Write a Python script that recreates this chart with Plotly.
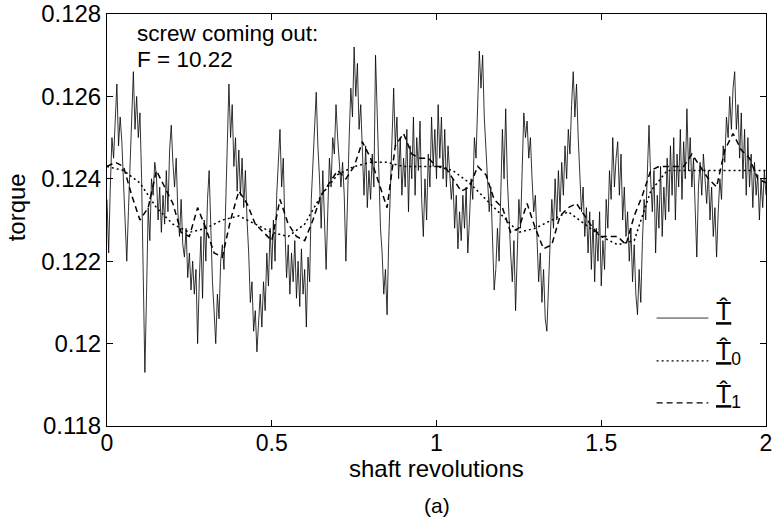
import numpy as np
import plotly.graph_objects as go

# ---- data ----
torque = [
    .1235, .1222, .1238, .1250, .1245, .1256, .1263, .1248, .1255, .1249, .1238, .1227, .1220, .1232, .1245, .1255, .1266, .1252, .1260, .1250, .1256,
    .1240, .1218, .1193, .1212, .1233, .1225, .1240, .1236, .1244, .1241, .1230, .1238, .1227, .1236, .1229, .1242, .1232, .1247, .1253, .1244,
    .1238, .1245, .1232, .1226, .1235, .1224, .1221, .1228, .1216, .1222, .1213, .1220, .1212, .1218, .1200, .1215, .1226, .1211, .1230, .1220,
    .1235, .1242, .1228, .1215, .1208, .1200, .1212, .1206, .1220, .1224, .1218, .1235, .1252, .1263, .1250, .1258, .1243, .1250, .1237, .1247,
    .1236, .1245, .1233, .1242, .1230, .1222, .1210, .1215, .1203, .1208, .1198, .1206, .1212, .1204, .1215, .1208, .1222, .1214, .1228, .1218,
    .1230, .1220, .1236, .1244, .1252, .1238, .1245, .1228, .1216, .1224, .1212, .1222, .1215, .1225, .1211, .1220, .1209, .1223, .1212, .1218,
    .1204, .1221, .1215, .1235, .1245, .1252, .1261, .1248, .1240, .1228, .1242, .1230, .1218, .1232, .1245, .1238, .1250, .1246, .1258, .1250,
    .1243, .1238, .1244, .1236, .1220, .1238, .1250, .1262, .1255, .1272, .1260, .1268, .1252, .1258, .1245, .1236, .1248, .1233, .1242, .1235,
    .1246, .1238, .1270, .1255, .1240, .1228, .1222, .1212, .1218, .1207, .1225, .1238, .1250, .1262, .1248, .1255, .1240, .1250, .1236, .1245,
    .1238, .1252, .1232, .1248, .1240, .1255, .1236, .1250, .1242, .1254, .1235, .1226, .1240, .1230, .1246, .1238, .1255, .1243, .1252, .1240,
    .1258, .1245, .1255, .1240, .1252, .1238, .1248, .1242, .1235, .1240, .1228, .1236, .1223, .1232, .1225, .1236, .1228, .1238, .1222, .1230,
    .1240, .1235, .1250, .1245, .1258, .1271, .1262, .1270, .1255, .1248, .1240, .1232, .1238, .1222, .1213, .1218, .1228, .1220, .1238, .1252,
    .1240, .1257, .1240, .1230, .1222, .1215, .1225, .1208, .1220, .1235, .1228, .1245, .1256, .1250, .1254, .1245, .1250, .1240, .1232, .1236,
    .1225, .1215, .1222, .1210, .1218, .1206, .1203, .1212, .1225, .1235, .1228, .1240, .1230, .1242, .1232, .1244, .1236, .1248, .1240, .1252,
    .1246, .1258, .1266, .1255, .1263, .1250, .1240, .1232, .1238, .1226, .1233, .1222, .1232, .1218, .1230, .1215, .1228, .1220, .1232, .1214,
    .1225, .1218, .1235, .1228, .1242, .1235, .1250, .1238, .1245, .1249, .1236, .1246, .1230, .1238, .1226, .1232, .1220, .1228, .1215, .1224,
    .1212, .1207, .1218, .1210, .1225, .1235, .1230, .1244, .1253, .1240, .1232, .1242, .1222, .1236, .1228, .1243, .1226, .1238, .1230, .1245,
    .1232, .1248, .1236, .1250, .1230, .1246, .1238, .1252, .1235, .1249, .1240, .1257, .1242, .1250, .1238, .1245, .1232, .1221, .1238, .1244,
    .1236, .1246, .1240, .1234, .1242, .1230, .1238, .1226, .1233, .1221, .1232, .1240, .1235, .1248, .1244, .1255, .1250, .1260, .1252, .1262,
    .1266, .1252, .1258, .1245, .1256, .1240, .1252, .1236, .1250, .1238, .1246, .1233, .1244, .1236, .1241, .1230, .1240, .1233, .1242, .1236,
]

torque0 = [
    .1243, .1242, .1239, .1233, .1229, .1227, .1228, .1230, .1231, .1229,
    .1227, .1226, .1229, .1236, .1241, .1243, .1244, .1244, .1243, .1243,
    .1243, .1242, .1239, .1235, .1231, .1227, .1228, .1230, .1232, .1229,
    .1226, .1224, .1225, .1237, .1242, .1242, .1242, .1242, .1242, .1242, .1242,
]

torque1 = [
    .1243, .1244, .1243, .1236, .1230, .1233, .1242, .1238, .1234, .1227,
    .1226, .1233, .1228, .1222, .1221, .1230, .1237, .1234, .1229, .1227,
    .1225, .1235, .1229, .1226, .1225, .1230, .1236, .1239, .1242, .1240,
    .1243, .1249, .1245, .1239, .1233, .1248, .1251, .1246, .1245, .1245,
    .1243, .1243, .1240, .1237, .1238, .1243, .1241, .1235, .1233, .1227,
    .1228, .1234, .1228, .1223, .1224, .1231, .1233, .1234, .1231, .1228,
    .1226, .1226, .1226, .1224, .1231, .1236, .1242, .1243, .1243, .1243,
    .1243, .1246, .1243, .1240, .1238, .1247, .1251, .1247, .1245, .1240, .1239,
]

x_ticks = [0, 0.5, 1, 1.5, 2]
x_ticktext = ["0", "0.5", "1", "1.5", "2"]
y_ticks = [0.118, 0.120, 0.122, 0.124, 0.126, 0.128]
y_ticktext = ["0.118", "0.12", "0.122", "0.124", "0.126", "0.128"]

x_rev = np.linspace(0, 2, len(torque))
x_rev0 = np.linspace(0, 2, len(torque0))
x_rev1 = np.linspace(0, 2, len(torque1))

FONT = "Liberation Sans, Arial, Helvetica, sans-serif"
DOT = "2px,3px"
DASH = "6px,4px"

fig = go.Figure()
fig.add_trace(go.Scatter(x=x_rev, y=torque, mode="lines",
                         line=dict(color="black", width=0.8), showlegend=False))
fig.add_trace(go.Scatter(x=x_rev0, y=torque0, mode="lines",
                         line=dict(color="black", width=1.5, dash=DOT), showlegend=False))
fig.add_trace(go.Scatter(x=x_rev1, y=torque1, mode="lines",
                         line=dict(color="black", width=1.5, dash=DASH), showlegend=False))

axis_common = dict(showline=True, linecolor="black", linewidth=1, mirror="ticks",
                   ticks="inside", ticklen=6, tickcolor="black", showgrid=False,
                   zeroline=False, automargin=False)

fig.update_xaxes(range=[0, 2], tickvals=x_ticks, ticktext=x_ticktext, ticklabelstandoff=-4,
                 tickfont=dict(family=FONT, size=23, color="black"), **axis_common)
fig.update_yaxes(range=[0.118, 0.128], tickvals=y_ticks, ticktext=y_ticktext,
                 tickfont=dict(family=FONT, size=24, color="black"), **axis_common)

# legend drawn by hand (hat-T symbols)
legend_rows = [
    dict(y=0.262, dash="solid", width=0.8, sub=""),
    dict(y=0.158, dash=DOT, width=1.3, sub="0"),
    dict(y=0.056, dash=DASH, width=1.3, sub="1"),
]
shapes = []
annotations = []
for row in legend_rows:
    shapes.append(dict(type="line", xref="paper", yref="paper", x0=0.834, x1=0.9125,
                       y0=row["y"], y1=row["y"], line=dict(color="black", width=row["width"], dash=row["dash"])))
    label = "<u>T\u0302</u>" + ("<sub>%s</sub>" % row["sub"] if row["sub"] else "")
    annotations.append(dict(xref="paper", yref="paper", x=0.921, y=row["y"] + 0.018, xanchor="left",
                            yanchor="middle", text=label, showarrow=False,
                            font=dict(family=FONT, size=25, color="black")))

annotations += [
    dict(xref="paper", yref="paper", x=0.042, y=0.953, xanchor="left", yanchor="middle",
         text="screw coming out:", showarrow=False, font=dict(family=FONT, size=22.5, color="black")),
    dict(xref="paper", yref="paper", x=0.042, y=0.889, xanchor="left", yanchor="middle",
         text="F = 10.22", showarrow=False, font=dict(family=FONT, size=22.5, color="black")),
    dict(xref="paper", yref="paper", x=0.5, y=-0.104, xanchor="center", yanchor="middle",
         text="shaft revolutions", showarrow=False, font=dict(family=FONT, size=24, color="black")),
    dict(xref="paper", yref="paper", x=0.5, y=-0.194, xanchor="center", yanchor="middle",
         text="(a)", showarrow=False, font=dict(family=FONT, size=21, color="black")),
    dict(xref="paper", yref="paper", x=-0.137, y=0.53, xanchor="center", yanchor="middle",
         text="torque", textangle=-90, showarrow=False, font=dict(family=FONT, size=24, color="black")),
]

fig.update_layout(width=777, height=525, margin=dict(l=107, r=11, t=14, b=99),
                  paper_bgcolor="white", plot_bgcolor="white",
                  shapes=shapes, annotations=annotations, showlegend=False,
                  font=dict(family=FONT, size=23, color="black"))

fig.write_html("out.html", config={"displayModeBar": False},
               post_script="document.body.style.margin='0px';")
